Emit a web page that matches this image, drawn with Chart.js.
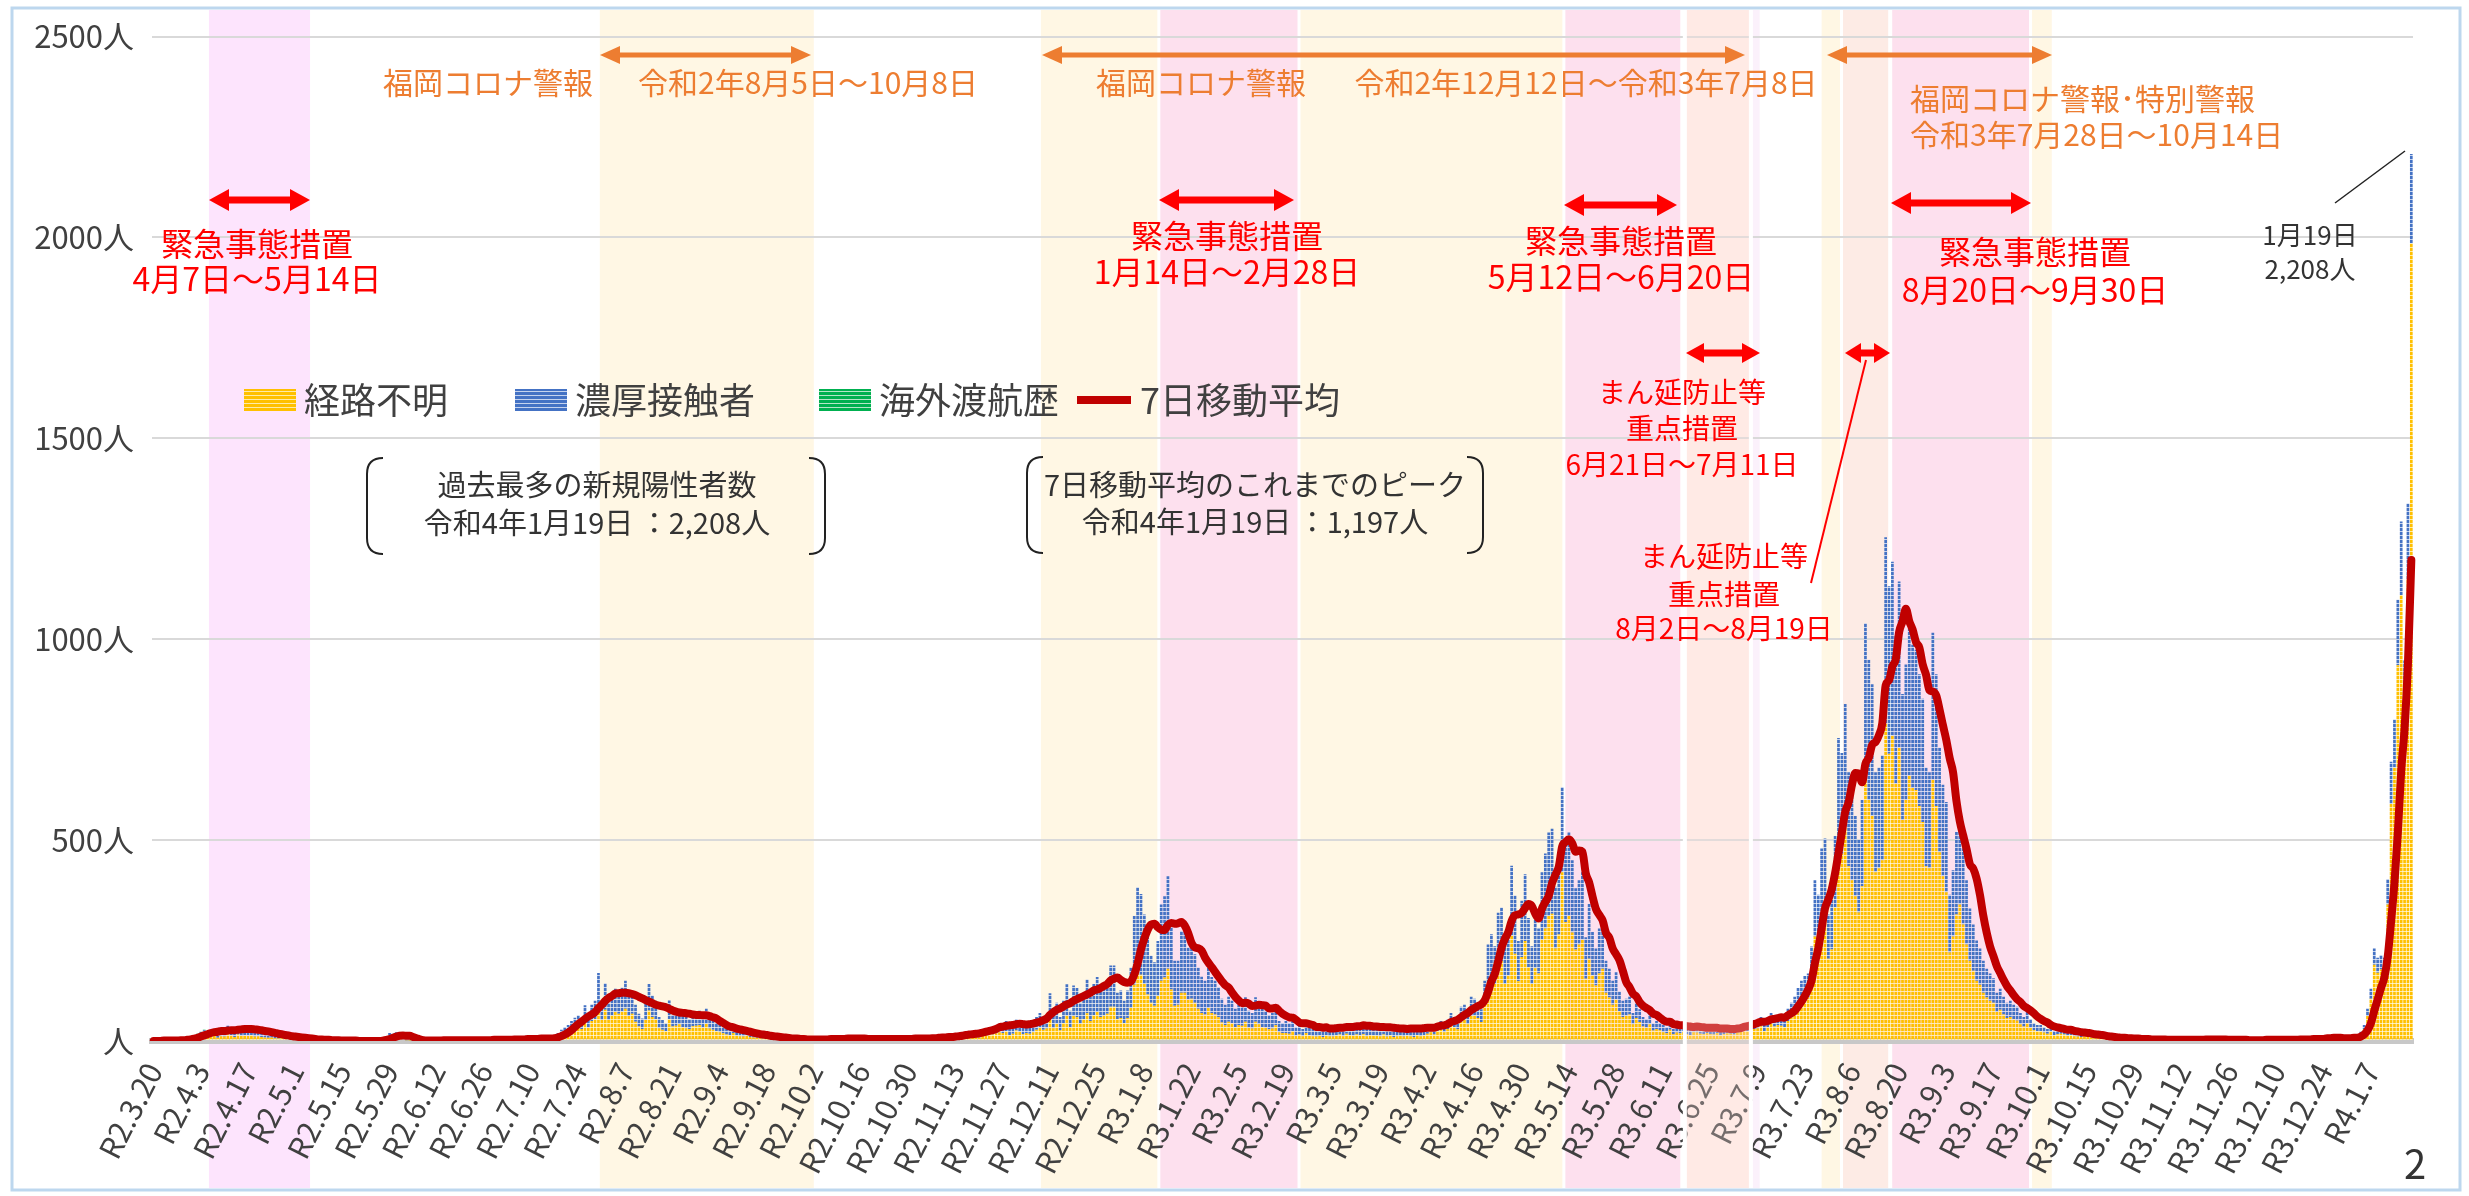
<!DOCTYPE html>
<html lang="ja">
<head>
<meta charset="utf-8">
<title>新規陽性者数の推移</title>
<script src="https://cdn.jsdelivr.net/npm/chart.js@4.4.1/dist/chart.umd.min.js"></script>
<style>
  html, body { margin: 0; padding: 0; background: #fff; }
  canvas { display: block; }
</style>
</head>
<body>
<canvas id="casesChart" width="2469" height="1196"></canvas>
<script>
// tick labels, one every 14 days from R2.3.20
const tickLabels = ['R2.3.20','R2.4.3','R2.4.17','R2.5.1','R2.5.15','R2.5.29','R2.6.12','R2.6.26','R2.7.10','R2.7.24',
  'R2.8.7','R2.8.21','R2.9.4','R2.9.18','R2.10.2','R2.10.16','R2.10.30','R2.11.13','R2.11.27','R2.12.11',
  'R2.12.25','R3.1.8','R3.1.22','R3.2.5','R3.2.19','R3.3.5','R3.3.19','R3.4.2','R3.4.16','R3.4.30',
  'R3.5.14','R3.5.28','R3.6.11','R3.6.25','R3.7.9','R3.7.23','R3.8.6','R3.8.20','R3.9.3','R3.9.17',
  'R3.10.1','R3.10.15','R3.10.29','R3.11.12','R3.11.26','R3.12.10','R3.12.24','R4.1.7'];

// 経路不明 (daily, from R2.3.20, 14 days per row)
const unknownRoute = [
  0,0,0,1,0,0,1,1,1,2,3,4,7,8,
  11,13,10,12,14,8,12,11,17,14,10,16,13,14,
  13,15,11,12,10,9,8,9,7,6,7,5,4,4,
  4,4,3,2,3,2,1,1,1,1,0,0,1,0,
  0,0,0,0,0,0,0,0,0,0,0,1,2,4,
  8,7,9,6,3,2,1,0,0,0,0,1,0,1,
  1,1,1,0,1,1,0,1,1,0,1,1,1,0,
  1,1,1,2,1,2,1,2,1,3,2,2,3,2,
  3,4,2,4,3,3,5,7,11,15,19,22,27,32,
  35,30,49,33,50,55,90,52,78,52,63,72,68,73,
  80,62,68,48,36,30,52,76,60,54,32,28,24,54,
  36,38,42,35,32,30,37,38,40,33,43,31,28,24,
  22,19,16,15,20,13,12,11,13,10,9,8,7,6,
  6,5,4,5,4,3,3,3,2,3,2,2,2,2,
  2,3,2,3,2,4,3,4,3,2,4,3,3,4,
  3,2,3,2,3,2,4,3,2,3,2,3,3,4,
  3,2,4,3,4,5,3,5,4,6,5,6,7,5,
  6,9,7,10,8,11,12,9,15,14,17,16,19,22,
  20,24,15,18,26,23,17,20,18,22,28,33,28,31,
  52,32,43,27,45,63,34,62,59,43,54,69,50,64,
  72,60,63,68,85,85,54,57,45,57,82,140,172,165,
  142,116,95,88,112,150,158,180,128,88,90,120,120,103,
  105,95,80,70,66,82,70,66,59,46,40,48,44,35,
  40,38,48,33,31,48,42,35,33,29,31,39,22,20,
  20,18,25,14,16,12,20,14,12,11,13,10,14,12,
  11,14,16,12,18,15,13,16,14,17,12,15,14,13,
  12,16,11,14,10,12,13,11,14,12,10,15,12,14,
  18,22,16,25,28,22,30,40,34,29,48,52,42,62,
  63,57,47,90,144,160,142,191,199,142,163,262,217,149,
  209,249,184,142,181,168,252,280,311,317,230,265,420,296,
  311,270,228,240,252,155,205,163,138,168,180,120,108,90,
  103,74,60,63,66,42,57,47,36,33,42,26,30,27,
  22,19,28,17,21,19,23,17,15,22,21,18,17,20,
  17,16,20,14,17,19,18,16,21,23,26,24,28,30,
  31,37,25,34,43,36,40,38,34,50,59,68,82,93,
  105,109,153,260,237,311,328,205,228,332,490,466,545,435,
  400,360,320,385,660,600,560,420,430,450,790,715,760,640,
  730,550,600,660,630,625,585,545,435,430,650,585,470,410,
  370,220,260,315,340,290,240,200,175,150,140,120,108,100,
  95,72,78,66,57,60,54,51,42,36,45,33,27,24,
  24,21,18,23,15,17,18,16,13,15,12,11,10,12,
  11,9,7,8,6,5,5,6,4,4,5,3,4,3,
  2,4,2,3,2,1,3,2,2,1,2,2,1,2,
  1,2,2,3,1,2,2,4,2,2,1,2,3,1,
  2,1,2,1,1,2,1,1,2,1,2,2,1,3,
  2,2,1,3,2,1,2,4,2,3,2,4,3,4,
  5,8,4,6,4,3,3,5,6,6,8,16,30,62,
  105,190,170,178,172,340,590,680,935,1110,810,1150,1985
];

// 濃厚接触者
const closeContact = [
  0,0,0,0,1,0,1,1,1,2,2,4,6,8,
  12,14,12,13,16,10,14,12,21,16,12,19,15,18,
  17,20,14,16,12,11,10,12,8,8,9,7,6,5,
  4,5,3,3,4,2,2,2,1,1,1,1,1,1,
  1,0,1,0,0,0,0,0,0,0,0,1,4,6,
  12,11,13,8,5,2,1,1,1,0,1,1,1,1,
  0,1,2,1,1,1,1,2,1,1,1,2,1,1,
  1,2,1,2,2,3,1,2,2,3,3,2,4,3,
  2,4,2,3,3,2,5,5,9,13,16,18,23,26,
  29,25,40,27,40,45,79,43,66,43,52,58,57,60,
  70,53,57,42,32,26,45,66,53,46,28,24,20,47,
  29,32,36,30,28,25,31,32,35,29,37,27,24,21,
  18,16,14,13,18,12,10,9,11,8,7,7,6,6,
  6,5,4,4,3,3,2,3,2,2,1,2,1,2,
  1,2,2,3,1,3,2,4,3,2,3,2,3,4,
  2,2,3,1,2,2,3,3,1,2,2,3,2,3,
  3,2,4,2,3,4,3,5,4,6,4,5,6,5,
  6,9,7,10,8,11,13,9,15,14,18,16,19,23,
  20,26,15,20,29,25,18,22,20,23,32,37,30,34,
  67,38,52,33,55,78,41,76,73,52,66,84,60,78,
  87,74,77,84,103,103,66,69,55,69,101,171,211,201,
  173,142,117,108,137,190,202,230,162,112,110,154,154,130,
  132,121,103,90,84,103,89,84,75,59,50,62,56,45,
  50,47,61,42,39,61,53,45,42,36,39,49,28,25,
  30,27,35,21,24,18,30,21,18,17,19,15,21,18,
  17,21,24,18,27,23,19,24,22,25,18,23,21,20,
  18,24,17,21,15,18,19,17,21,18,16,23,18,20,
  17,18,14,20,22,18,25,30,26,23,37,38,33,48,
  42,38,32,60,96,106,94,128,133,94,108,174,145,100,
  140,166,122,94,120,112,168,187,208,211,154,176,212,197,
  208,180,152,160,168,103,136,108,92,112,120,80,72,60,
  68,49,40,42,44,28,38,32,24,22,28,18,20,18,
  18,16,22,13,17,16,19,13,13,18,17,14,13,16,
  13,12,15,11,13,14,14,12,15,17,19,18,20,22,
  19,23,15,21,27,22,25,24,21,30,36,42,50,57,
  57,59,82,140,127,168,176,110,123,178,264,251,294,234,
  220,200,180,215,380,349,328,249,251,261,464,417,433,370,
  414,314,337,375,356,349,328,307,246,239,366,328,260,228,
  225,144,165,205,220,190,160,130,115,100,90,80,72,68,
  61,48,52,44,38,40,36,34,28,24,30,22,18,16,
  16,14,12,15,10,11,12,10,9,10,8,7,6,8,
  7,6,5,6,4,4,3,4,3,2,3,2,2,2,
  2,2,1,2,2,1,2,1,2,1,1,2,1,1,
  1,2,1,2,1,1,2,2,1,2,1,1,2,1,
  1,1,2,0,1,1,1,0,1,1,2,1,1,2,
  1,2,1,2,1,1,2,2,1,2,2,3,2,2,
  3,4,2,3,3,2,2,3,3,4,5,8,10,18,
  25,40,37,36,35,63,105,120,163,183,137,188,223
];

// 海外渡航歴 (only the first weeks)
const overseasTravel = [
  0,1,0,1,0,0,0,1,0,1,1,1,2,2,
  1,1,0,1,0,0,0,1,0,0,0,0,0,0
];

// 7日移動平均
const movingAvg7 = [
  0,0,0,1,1,1,1,1,2,2,3,4,6,8,
  11,14,17,20,22,23,25,25,26,27,27,28,29,30,
  30,30,29,28,27,25,24,22,20,18,17,15,14,12,
  11,10,9,8,7,6,5,4,4,3,3,2,2,2,
  1,1,1,1,1,0,0,0,0,0,0,0,1,3,
  5,8,11,13,14,13,13,10,7,4,2,1,1,1,
  1,1,2,2,2,2,2,2,2,2,2,2,2,2,
  2,2,2,3,3,3,3,3,3,4,4,4,4,5,
  5,5,5,6,6,6,6,7,9,12,16,21,27,35,
  42,48,55,61,66,72,82,90,100,107,112,118,119,120,
  120,119,117,114,110,106,102,98,94,90,88,86,84,80,
  76,73,71,70,69,68,66,65,65,64,64,62,59,56,
  50,45,40,36,34,31,29,27,25,23,21,19,17,16,
  15,13,12,11,10,9,8,7,6,6,5,5,4,4,
  4,4,4,4,4,5,5,5,5,5,6,6,6,6,
  6,6,5,5,5,5,5,5,5,5,5,5,5,5,
  5,5,6,6,6,6,6,7,7,8,9,9,10,10,
  11,12,13,15,16,17,18,19,21,23,25,27,30,34,
  36,38,39,40,42,43,42,41,42,43,46,48,52,56,
  65,72,78,81,86,91,94,100,104,108,112,116,120,126,
  128,132,137,142,151,155,158,152,147,145,148,165,193,228,
  255,277,290,292,283,277,276,289,294,292,293,296,287,269,
  244,233,231,225,208,195,184,172,160,149,139,133,121,110,
  101,94,95,93,87,88,90,89,88,81,81,83,75,68,
  63,59,58,53,46,44,44,42,40,35,35,33,34,31,
  31,32,33,33,35,35,35,37,37,39,38,38,36,36,
  35,35,34,34,33,32,31,31,30,31,31,31,31,32,
  33,33,33,36,38,39,42,47,50,53,59,65,70,77,
  82,87,91,101,122,149,167,198,232,254,271,299,313,315,
  319,331,341,336,317,305,330,346,361,393,414,434,484,495,
  502,492,471,474,471,417,395,360,329,314,300,269,257,230,
  216,201,175,147,134,118,111,97,88,82,77,68,65,58,
  52,48,48,42,41,39,39,37,36,35,36,35,34,33,
  33,33,33,31,31,31,30,30,31,32,35,37,39,42,
  45,48,48,50,54,55,57,59,58,64,69,75,86,98,
  112,128,150,194,230,280,330,352,378,418,468,519,570,594,
  637,667,666,644,690,705,737,744,761,791,885,898,933,950,
  1018,1044,1076,1045,1024,993,979,937,911,873,870,860,825,786,
  749,704,669,598,547,512,478,440,429,404,363,311,269,235,
  211,186,169,152,137,126,114,104,97,87,82,76,69,61,
  55,50,46,40,36,34,32,30,28,28,25,24,22,21,
  20,19,17,16,15,14,12,11,10,9,8,8,7,7,
  6,6,5,5,5,4,4,4,4,4,3,3,3,3,
  3,3,3,3,3,3,3,4,4,4,4,4,4,4,
  3,3,3,3,3,3,2,2,2,2,2,3,3,3,
  3,3,3,3,3,3,3,4,4,4,4,5,5,5,
  5,7,7,8,8,8,7,7,7,8,8,11,16,26,
  44,75,103,132,158,210,298,394,518,673,778,939,1197
];

const dayIndex = unknownRoute.map((_, i) => i);

const FONT = '"Noto Sans CJK JP", "Noto Sans", sans-serif';

// shaded periods, in day-index units on the x scale
const bands = [
  { from: 16.4, to: 46.4, color: '#FDE4FD' },
  { from: 132.4, to: 195.9, color: '#FFF7E4' },
  { from: 263.3, to: 474.6, color: '#FFF7E4' },
  { from: 298.3, to: 339.9, color: '#FDE0EE', edge: true },
  { from: 418.5, to: 453.5, color: '#FDE0EE', edge: true },
  { from: 454.4, to: 474.0, color: '#FFEDE8', edge: true },
  { from: 474.0, to: 476.6, color: '#FBF1FB' },
  { from: 495.0, to: 563.3, color: '#FFF7E4' },
  { from: 500.9, to: 515.2, color: '#FDEBE5', edge: true },
  { from: 515.5, to: 557.0, color: '#FDE0EE', edge: true }
];
const overlayBand = { from: 454.4, to: 474.0 };

const canvas = document.getElementById('casesChart');
const ctx = canvas.getContext('2d');

function stripes(color, gap) {
  const c = document.createElement('canvas');
  c.width = 4; c.height = 4;
  const g = c.getContext('2d');
  g.fillStyle = gap; g.fillRect(0, 0, 4, 4);
  g.fillStyle = color; g.fillRect(0, 0, 4, 3);
  return ctx.createPattern(c, 'repeat');
}
const yellowFill = stripes('#FFC000', '#FFEBA8');
const blueFill = stripes('#4472C4', '#C5D3EE');
const greenFill = stripes('#00B050', '#B5E6C8');

function text(c, s, x, y, size, color, align) {
  c.font = size + 'px ' + FONT;
  c.fillStyle = color;
  c.textAlign = align || 'center';
  c.textBaseline = 'middle';
  c.fillText(s, x, y);
}

function dblArrow(c, x1, x2, y, color, lw, hl, hw) {
  c.strokeStyle = color; c.fillStyle = color; c.lineWidth = lw;
  c.beginPath(); c.moveTo(x1 + hl - 2, y); c.lineTo(x2 - hl + 2, y); c.stroke();
  c.beginPath(); c.moveTo(x1, y); c.lineTo(x1 + hl, y - hw); c.lineTo(x1 + hl, y + hw); c.closePath(); c.fill();
  c.beginPath(); c.moveTo(x2, y); c.lineTo(x2 - hl, y - hw); c.lineTo(x2 - hl, y + hw); c.closePath(); c.fill();
}

function bracketBox(c, x1, y1, x2, y2) {
  const r = 16;
  c.strokeStyle = '#222'; c.lineWidth = 2;
  c.beginPath();
  c.moveTo(x1 + r, y1); c.quadraticCurveTo(x1, y1, x1, y1 + r);
  c.lineTo(x1, y2 - r); c.quadraticCurveTo(x1, y2, x1 + r, y2);
  c.stroke();
  c.beginPath();
  c.moveTo(x2 - r, y1); c.quadraticCurveTo(x2, y1, x2, y1 + r);
  c.lineTo(x2, y2 - r); c.quadraticCurveTo(x2, y2, x2 - r, y2);
  c.stroke();
}

const backdrop = {
  id: 'backdrop',
  beforeDraw(chart) {
    const c = chart.ctx, x = chart.scales.x;
    c.save();
    c.fillStyle = '#fff';
    c.fillRect(0, 0, chart.width, chart.height);
    bands.forEach(b => {
      const a = x.getPixelForValue(b.from), z = x.getPixelForValue(b.to);
      c.fillStyle = b.color;
      c.fillRect(a, 10, z - a, 1178);
      if (b.edge) {
        c.fillStyle = '#fff';
        c.fillRect(a - 1.5, 10, 3, 1178);
        c.fillRect(z - 1.5, 10, 3, 1178);
      }
    });
    c.restore();
  },
  afterDraw(chart) {
    const c = chart.ctx, x = chart.scales.x;
    c.save();
    // 6/21-7/11 band sits over the bars
    const a = x.getPixelForValue(overlayBand.from), z = x.getPixelForValue(overlayBand.to);
    c.fillStyle = 'rgba(255,228,222,0.28)';
    c.fillRect(a, 10, z - a, 1178);
    c.fillStyle = '#fff';
    c.fillRect(a - 2, 10, 4, 1178);
    c.fillRect(z - 2, 10, 4, 1178);

    // frame
    c.strokeStyle = '#BDD7EE'; c.lineWidth = 3;
    c.strokeRect(12, 8, 2448, 1182);

    // 福岡コロナ警報
    const orange = '#ED7D31';
    dblArrow(c, 600, 811, 55, orange, 5, 20, 9);
    dblArrow(c, 1042, 1745, 55, orange, 5, 20, 9);
    dblArrow(c, 1827, 2052, 55, orange, 5, 20, 9);
    text(c, '福岡コロナ警報', 488, 83, 30, orange);
    text(c, '令和2年8月5日～10月8日', 808, 83, 30, orange);
    text(c, '福岡コロナ警報', 1201, 83, 30, orange);
    text(c, '令和2年12月12日～令和3年7月8日', 1586, 83, 30, orange);
    text(c, '福岡コロナ警報･特別警報', 1910, 99, 30, orange, 'left');
    text(c, '令和3年7月28日～10月14日', 1910, 135, 30, orange, 'left');

    // 緊急事態措置
    const red = '#FF0000';
    dblArrow(c, 209, 310, 200, red, 7, 20, 11);
    dblArrow(c, 1159, 1294, 200, red, 7, 20, 11);
    dblArrow(c, 1564, 1677, 205, red, 7, 20, 11);
    dblArrow(c, 1891, 2031, 203, red, 7, 20, 11);
    text(c, '緊急事態措置', 257, 244, 32, red);
    text(c, '4月7日～5月14日', 257, 279, 32, red);
    text(c, '緊急事態措置', 1227, 236, 32, red);
    text(c, '1月14日～2月28日', 1227, 272, 32, red);
    text(c, '緊急事態措置', 1621, 241, 32, red);
    text(c, '5月12日～6月20日', 1621, 277, 32, red);
    text(c, '緊急事態措置', 2035, 252, 32, red);
    text(c, '8月20日～9月30日', 2035, 290, 32, red);

    // まん延防止等重点措置
    dblArrow(c, 1686, 1760, 353, red, 7, 18, 10);
    dblArrow(c, 1845, 1890, 353, red, 7, 16, 10);
    text(c, 'まん延防止等', 1682, 392, 28, red);
    text(c, '重点措置', 1682, 428, 28, red);
    text(c, '6月21日～7月11日', 1682, 464, 28, red);
    text(c, 'まん延防止等', 1724, 556, 28, red);
    text(c, '重点措置', 1724, 594, 28, red);
    text(c, '8月2日～8月19日', 1724, 628, 28, red);
    c.strokeStyle = red; c.lineWidth = 2;
    c.beginPath(); c.moveTo(1811, 583); c.lineTo(1866, 360); c.stroke();

    // legend
    const lg = [
      { fill: yellowFill, label: '経路不明', x: 244 },
      { fill: blueFill, label: '濃厚接触者', x: 515 },
      { fill: greenFill, label: '海外渡航歴', x: 819 }
    ];
    lg.forEach(l => {
      c.fillStyle = l.fill;
      c.fillRect(l.x, 389, 52, 22);
      text(c, l.label, l.x + 60, 400, 36, '#404040', 'left');
    });
    c.strokeStyle = '#C00000'; c.lineWidth = 8;
    c.beginPath(); c.moveTo(1077, 400); c.lineTo(1131, 400); c.stroke();
    text(c, '7日移動平均', 1140, 400, 36, '#404040', 'left');

    // notes
    bracketBox(c, 367, 458, 825, 554);
    text(c, '過去最多の新規陽性者数', 597, 485, 29, '#333');
    text(c, '令和4年1月19日 ：2,208人', 597, 523, 29, '#333');
    bracketBox(c, 1027, 457, 1483, 553);
    text(c, '7日移動平均のこれまでのピーク', 1255, 485, 29, '#333');
    text(c, '令和4年1月19日 ：1,197人', 1255, 522, 29, '#333');

    text(c, '1月19日', 2310, 235, 26, '#333');
    text(c, '2,208人', 2310, 269, 26, '#333');
    c.strokeStyle = '#222'; c.lineWidth = 1.5;
    c.beginPath(); c.moveTo(2335, 203); c.lineTo(2405, 151); c.stroke();

    text(c, '2', 2415, 1164, 40, '#333');
    c.restore();
  }
};

new Chart(ctx, {
  data: {
    labels: dayIndex,
    datasets: [
      {
        type: 'line',
        label: '7日移動平均',
        data: movingAvg7,
        borderColor: '#C00000',
        borderWidth: 8,
        pointRadius: 0,
        cubicInterpolationMode: 'monotone',
        borderCapStyle: 'round',
        borderJoinStyle: 'round',
        stack: 'avg',
        order: 0
      },
      {
        type: 'bar',
        label: '経路不明',
        data: unknownRoute,
        backgroundColor: yellowFill,
        stack: 'cases',
        order: 1,
        barPercentage: 0.8,
        categoryPercentage: 1
      },
      {
        type: 'bar',
        label: '濃厚接触者',
        data: closeContact,
        backgroundColor: blueFill,
        stack: 'cases',
        order: 1,
        barPercentage: 0.8,
        categoryPercentage: 1
      },
      {
        type: 'bar',
        label: '海外渡航歴',
        data: overseasTravel,
        backgroundColor: greenFill,
        stack: 'cases',
        order: 1,
        barPercentage: 0.8,
        categoryPercentage: 1
      }
    ]
  },
  options: {
    responsive: false,
    animation: false,
    layout: { padding: { left: 12, right: 56, top: 28, bottom: 10 } },
    plugins: {
      legend: { display: false },
      tooltip: { enabled: false }
    },
    scales: {
      x: {
        stacked: true,
        offset: true,
        grid: { display: false },
        border: { color: '#C8C8C8', width: 6 },
        ticks: {
          autoSkip: false,
          minRotation: 63,
          maxRotation: 63,
          padding: 8,
          color: '#404040',
          font: { family: FONT, size: 30 },
          callback: (v, i) => (i % 14 === 0 ? tickLabels[i / 14] : '')
        },
        afterFit: s => { s.height = 145; }
      },
      y: {
        stacked: true,
        min: 0,
        max: 2500,
        border: { display: false },
        grid: { color: '#D9D9D9', lineWidth: 2, drawTicks: false },
        ticks: {
          stepSize: 500,
          padding: 18,
          color: '#404040',
          font: { family: FONT, size: 31 },
          callback: v => (v === 0 ? '人' : v + '人')
        },
        afterFit: s => { s.width = 140; }
      }
    }
  },
  plugins: [backdrop]
});
</script>
</body>
</html>
